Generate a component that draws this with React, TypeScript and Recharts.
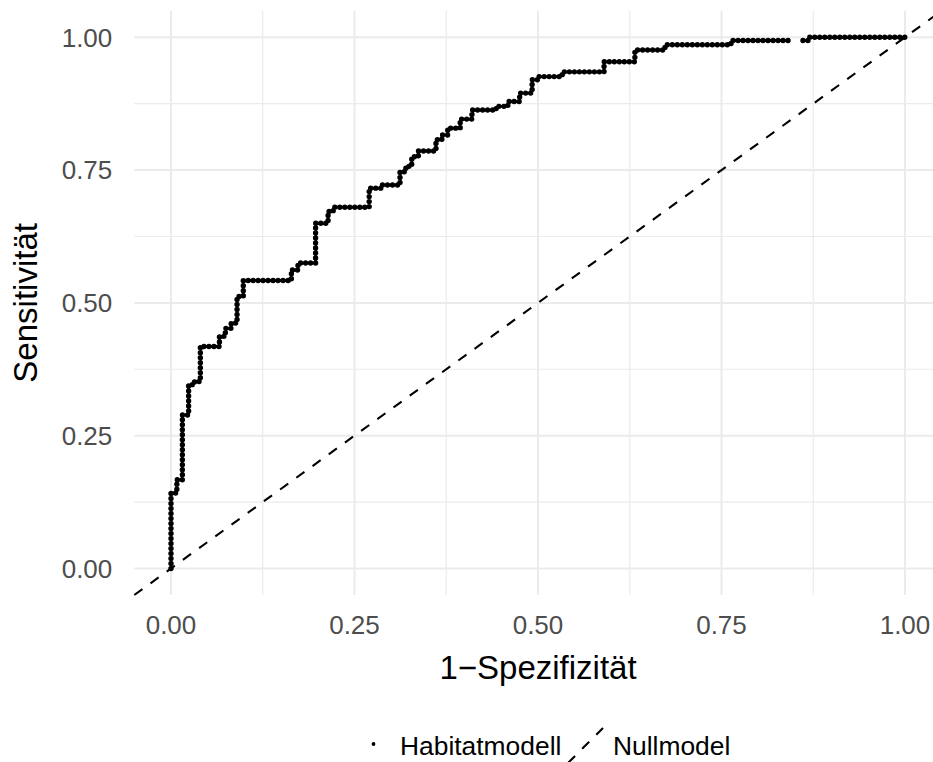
import React from 'react';
import { LineChart, Line, XAxis, YAxis, ReferenceLine } from 'recharts';

// ROC curve corners (1 - specificity, sensitivity).
// null marks the small gap in the top step near 0.85
const fpr = [
  0, 0, 0.008, 0.008, 0.0155, 0.0155, 0.024, 0.024, 0.032, 0.032,
  0.04, 0.04, 0.066, 0.066, 0.074, 0.074, 0.082, 0.082, 0.09, 0.09,
  0.0985, 0.0985, 0.164, 0.164, 0.173, 0.173, 0.197, 0.197, 0.214, 0.214,
  0.221, 0.221, 0.27, 0.27, 0.287, 0.287, 0.312, 0.312, 0.32, 0.32,
  0.328, 0.328, 0.337, 0.337, 0.361, 0.361, 0.369, 0.369, 0.377, 0.377,
  0.394, 0.394, 0.41, 0.41, 0.443, 0.443, 0.459, 0.459, 0.475, 0.475,
  0.492, 0.492, 0.5, 0.5, 0.533, 0.533, 0.59, 0.59, 0.632, 0.632,
  0.673, 0.673, 0.763, 0.763, 0.846, 0.853, 0.861, 0.87, 0.87, 1.0,
];
const tpr: (number | null)[] = [
  0, 0.142, 0.142, 0.167, 0.167, 0.289, 0.289, 0.346, 0.346, 0.352,
  0.352, 0.418, 0.418, 0.437, 0.437, 0.452, 0.452, 0.462, 0.462, 0.512,
  0.512, 0.542, 0.542, 0.562, 0.562, 0.575, 0.575, 0.65, 0.65, 0.672,
  0.672, 0.68, 0.68, 0.716, 0.716, 0.722, 0.722, 0.747, 0.747, 0.757,
  0.757, 0.775, 0.775, 0.786, 0.786, 0.807, 0.807, 0.816, 0.816, 0.829,
  0.829, 0.846, 0.846, 0.863, 0.863, 0.87, 0.87, 0.879, 0.879, 0.895,
  0.895, 0.92, 0.92, 0.926, 0.926, 0.935, 0.935, 0.954, 0.954, 0.976,
  0.976, 0.986, 0.986, 0.994, 0.994, null, 0.994, 0.994, 1.0, 1.0,
];
const majorTicks = [0, 0.25, 0.5, 0.75, 1];
const minorTicks = [0.125, 0.375, 0.625, 0.875];
const domain: [number, number] = [-0.05, 1.05];

const FONT = '"Liberation Sans", Arial, Helvetica, sans-serif';
const GRID = '#EBEBEB';

const rocData = fpr.map((f, i) => ({ fpr: f, tpr: tpr[i] }));

export default function App() {
  return (
    <div
      style={{
        position: 'fixed', left: 0, top: 0, width: 933, height: 762,
        overflow: 'hidden', background: '#fff', fontFamily: FONT,
      }}
    >
      <LineChart
        width={960}
        height={762}
        data={rocData}
        margin={{ top: 10.75, right: 18.3, bottom: 0, left: 0.3 }}
        style={{ position: 'absolute', left: 0, top: 0 }}
      >
        {/* theme_minimal style grid: minor lines thinner than major */}
        {minorTicks.map((t) => (
          <ReferenceLine key={'mx' + t} x={t} stroke={GRID} strokeWidth={1.2} />
        ))}
        {minorTicks.map((t) => (
          <ReferenceLine key={'my' + t} y={t} stroke={GRID} strokeWidth={1.2} />
        ))}
        {majorTicks.map((t) => (
          <ReferenceLine key={'Mx' + t} x={t} stroke={GRID} strokeWidth={2} />
        ))}
        {majorTicks.map((t) => (
          <ReferenceLine key={'My' + t} y={t} stroke={GRID} strokeWidth={2} />
        ))}
        <XAxis
          dataKey="fpr"
          type="number"
          domain={domain}
          allowDataOverflow
          ticks={majorTicks}
          tickFormatter={(v: number) => v.toFixed(2)}
          axisLine={false}
          tickLine={false}
          tickSize={0}
          tickMargin={21}
          height={167}
          tick={{ fontSize: 26, fill: '#4D4D4D', fontFamily: FONT }}
          label={{
            value: '1\u2212Spezifizität', position: 'insideBottom', offset: 83,
            style: { fontSize: 33, fill: '#000', fontFamily: FONT },
          }}
        />
        <YAxis
          type="number"
          domain={domain}
          allowDataOverflow
          ticks={majorTicks}
          tickFormatter={(v: number) => v.toFixed(2)}
          axisLine={false}
          tickLine={false}
          tickSize={0}
          tickMargin={22}
          width={134}
          tick={{ fontSize: 26, fill: '#4D4D4D', fontFamily: FONT }}
          label={{
            value: 'Sensitivität', angle: -90, position: 'insideLeft', offset: 25,
            style: { fontSize: 33, fill: '#000', fontFamily: FONT, textAnchor: 'middle' },
          }}
        />
        <Line
          type="linear"
          dataKey="tpr"
          stroke="#000"
          strokeWidth={5.4}
          strokeDasharray="0 5"
          strokeLinecap="round"
          connectNulls={false}
          dot={false}
          activeDot={false}
          isAnimationActive={false}
        />
        <ReferenceLine
          segment={[{ x: -0.05, y: -0.05 }, { x: 1.05, y: 1.05 }]}
          stroke="#000"
          strokeWidth={2.1}
          strokeDasharray="10 10"
        />
      </LineChart>
      {/* legend below the panel */}
      <svg
        width={933}
        height={762}
        style={{ position: 'absolute', left: 0, top: 0, pointerEvents: 'none' }}
      >
        <circle cx={373.5} cy={744} r={1.9} fill="#000" />
        <text x={400} y={755} fontSize={26.4} fontFamily={FONT} fill="#000">Habitatmodell</text>
        <line x1={568} y1={763} x2={603} y2={728} stroke="#000" strokeWidth={2.1} strokeDasharray="10 10" />
        <text x={613} y={755} fontSize={26.4} fontFamily={FONT} fill="#000">Nullmodel</text>
      </svg>
    </div>
  );
}
